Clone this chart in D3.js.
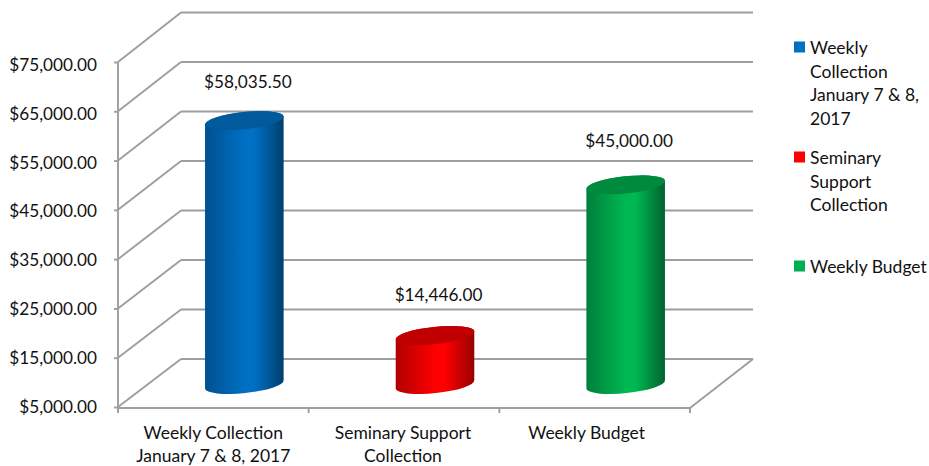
<!DOCTYPE html>
<html><head><meta charset="utf-8">
<script src="https://cdnjs.cloudflare.com/ajax/libs/d3/7.8.5/d3.min.js"></script>
<style>html,body{margin:0;padding:0;background:#fff}svg{display:block}text{font-family:Lato,"Open Sans",sans-serif;fill:#111}</style>
</head><body><svg id="c" width="929" height="466"></svg>
<script>
const categories = ["Weekly Collection|January 7 & 8, 2017", "Seminary Support|Collection", "Weekly Budget"];
const values = [58035.5, 14446, 45000];
const valueLabels = ["$58,035.50", "$14,446.00", "$45,000.00"];
const tickValues = [5000, 15000, 25000, 35000, 45000, 55000, 65000, 75000];
const legendLabels = ["Weekly|Collection|January 7 & 8,|2017", "Seminary|Support|Collection", "Weekly Budget"];
const colors = [
  {id:"b", mid:"#0070c4", left:"#00508f", right:"#003f6e", top:"#005a9c", sw:"#0070c0"},
  {id:"r", mid:"#ff0000", left:"#b00000", right:"#980000", top:"#c00000", sw:"#ff0000"},
  {id:"g", mid:"#00b852", left:"#007f3a", right:"#00642e", top:"#008a3e", sw:"#00b050"}
];

const FS = 17.2, FS2 = 17.5, GRID = "#9e9e9e";
const svg = d3.select("#c");
const dx = 63;
const y = d3.scaleLinear().domain([5000, 75000]).range([407, 62]);
const yBack = d3.scaleLinear().domain([5000, 75000]).range([359, 12.5]);
const yLabel = d3.scaleLinear().domain([5000, 75000]).range([407, 65]);
const x = d3.scaleBand().domain(categories).range([118, 690]);
const hScale = d3.scaleLinear().domain([5000, 75000]).range([0, 345]);

// gradients
const defs = svg.append("defs");
colors.forEach(c => {
  const g = defs.append("linearGradient").attr("id", "grad" + c.id);
  [[0, c.left], [.5, c.mid], [.62, c.mid], [1, c.right]].forEach(s =>
    g.append("stop").attr("offset", s[0]).attr("stop-color", s[1]));
});

// walls
const grid = svg.append("g").attr("fill", "none").attr("stroke", GRID).attr("stroke-width", 1.9);
tickValues.forEach(t => {
  grid.append("line").attr("x1", 118).attr("y1", y(t)).attr("x2", 118 + dx).attr("y2", yBack(t));
  grid.append("line").attr("x1", 118 + dx).attr("y1", yBack(t)).attr("x2", 690 + dx).attr("y2", yBack(t));
});
grid.append("line").attr("x1", 690).attr("y1", y(5000) + 1).attr("x2", 690 + dx).attr("y2", yBack(5000));

// axes
const axisY = d3.axisLeft(y).tickValues(tickValues).tickSize(4).tickFormat("");
const ay = svg.append("g").attr("transform", "translate(118,0)").call(axisY);
ay.selectAll("path,line").attr("stroke", GRID).attr("stroke-width", 1.9);
ay.select("path").attr("d", `M0,${y(75000)}V${y(5000) + 5}`);
const floorY = y(5000) + 1;
const ax = svg.append("g").attr("stroke", GRID).attr("stroke-width", 1.9);
ax.append("line").attr("x1", 118).attr("x2", 690).attr("y1", floorY).attr("y2", floorY);
[...categories.map(c => x(c)), 690].forEach(px =>
  ax.append("line").attr("x1", px).attr("x2", px).attr("y1", floorY).attr("y2", floorY + 5));

svg.append("g").selectAll("text").data(tickValues).join("text")
  .attr("x", 97).attr("y", d => yLabel(d)).attr("dy", "0.34em").attr("text-anchor", "end")
  .attr("font-size", FS).text(d3.format("$,.2f"));

// cylinders
const rx = 39.5, ry = 8.6, rot = -6, baseY = 384.5, topLift = 2.5;
const ex = rx * Math.cos(rot * Math.PI / 180), ey = rx * Math.sin(rot * Math.PI / 180);
const bars = svg.append("g").selectAll("g").data(values).join("g");
const cx = (d, i) => x(categories[i]) + x.bandwidth() / 2 + dx / 2 - 0.5;
const topOf = d => baseY - hScale(d) - topLift;
bars.append("path").attr("fill", (d, i) => `url(#grad${colors[i].id})`).attr("d", (d, i) => {
  const c = cx(d, i), top = topOf(d);
  return `M${c - ex},${top - ey}L${c - ex},${baseY - ey}A${rx},${ry},${rot},0,0,${c + ex},${baseY + ey}L${c + ex},${top + ey}A${rx},${ry},${rot},0,0,${c - ex},${top - ey}Z`;
});
bars.append("ellipse").attr("rx", rx).attr("ry", ry).attr("fill", (d, i) => colors[i].top)
  .attr("transform", (d, i) => `translate(${cx(d, i)},${topOf(d)}) rotate(${rot})`);

// value labels
const labelGap = [38.5, 40, 44];
svg.append("g").selectAll("text").data(values).join("text")
  .attr("x", (d, i) => cx(d, i) + 3.5).attr("y", (d, i) => topOf(d) - labelGap[i]).attr("dy", "0.34em")
  .attr("text-anchor", "middle").attr("font-size", FS).text((d, i) => valueLabels[i]);

// category labels
const catShift = [0, -1, -8];
categories.forEach((c, i) => {
  const px = x(c) + x.bandwidth() / 2 + catShift[i];
  c.split("|").forEach((line, j) => svg.append("text").attr("x", px).attr("y", 433 + j * 23)
    .attr("dy", "0.34em").attr("text-anchor", "middle").attr("font-size", FS2).text(line));
});

// legend
const legendTop = [48, 158, 267];
legendLabels.forEach((l, i) => {
  svg.append("rect").attr("x", 794).attr("y", legendTop[i] - 6.5).attr("width", 11).attr("height", 11).attr("fill", colors[i].sw);
  l.split("|").forEach((line, j) => svg.append("text").attr("x", 810).attr("y", legendTop[i] + 0.5 + j * 23.5)
    .attr("dy", "0.34em").attr("font-size", FS2).text(line));
});
</script></body></html>
